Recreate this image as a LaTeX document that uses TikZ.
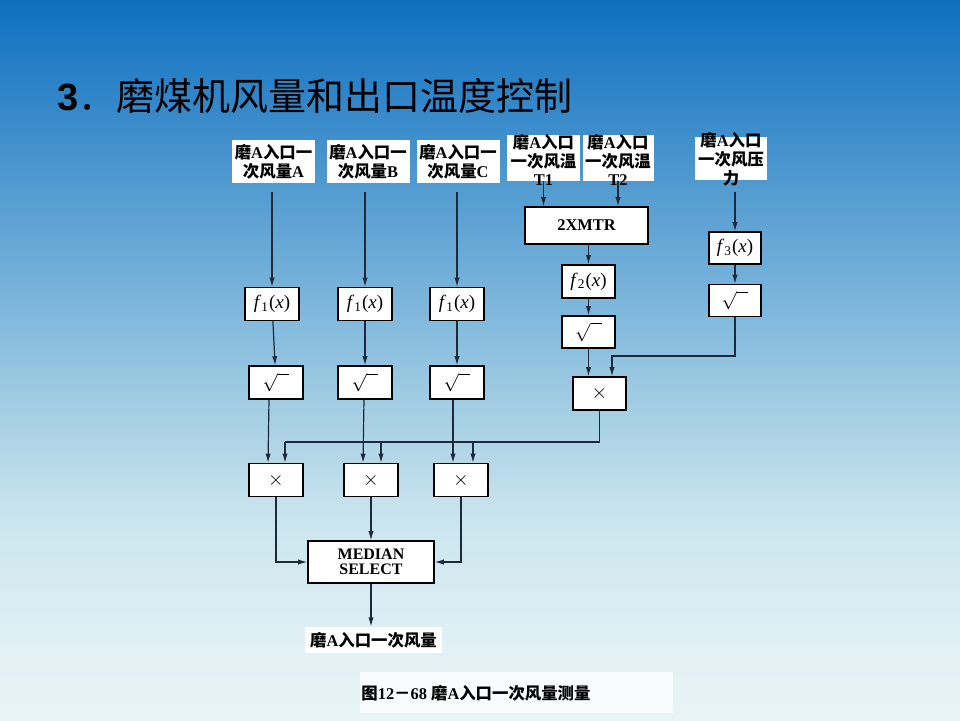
\documentclass[tikz,border=0pt]{standalone}
\usepackage{fontspec}
\setmainfont{Liberation Serif}
\newfontfamily\cjk{Noto Sans CJK SC}
\newfontfamily\titlesans{Liberation Sans}
\usepackage{xcolor}
\usepackage{tikz}
\usetikzlibrary{arrows.meta}

% slide background, top to bottom
\definecolor{bgA}{RGB}{14,111,191}
\definecolor{bgB}{RGB}{134,188,222}
\definecolor{bgC}{RGB}{157,202,226}
\definecolor{bgD}{RGB}{203,229,238}
\definecolor{bgE}{RGB}{227,242,245}
\definecolor{bgF}{RGB}{232,244,246}
\definecolor{wirecol}{RGB}{28,42,60}
\definecolor{capfill}{RGB}{248,252,252}
\pgfdeclareverticalshading{slidebg}{100bp}{color(0bp)=(bgF); color(25bp)=(bgF);
  color(29.17bp)=(bgE); color(38.89bp)=(bgD); color(47.92bp)=(bgC);
  color(52.08bp)=(bgB); color(75bp)=(bgA); color(100bp)=(bgA)}

\newcommand\zh[1]{{\cjk #1}}
\newcommand\fx[1]{{\fontsize{9.5}{10}\selectfont\textit{f}\textsubscript{#1}(\textit{x})}}
\newcommand\rt{{\fontsize{9}{10}\selectfont$\sqrt{\phantom{n}}$}}
\newcommand\mult{{\fontsize{10}{10}\selectfont$\times$}}

\begin{document}
\begin{tikzpicture}[x=0.5pt, y=-0.5pt,
  blk/.style={draw=black, line width=0.6pt, fill=white, inner sep=0pt},
  srcbox/.style={fill=white, inner sep=0pt},
  sz/.style 2 args={minimum width=#1*0.5pt, minimum height=#2*0.5pt},
  lbl/.style={font=\bfseries\fontsize{8.2}{9.4}\selectfont, align=center, inner sep=0pt},
  wire/.style={draw=wirecol, line width=0.6pt},
  arr/.style={wire, -{Latex[length=4.6pt,width=2.6pt]}}]
\useasboundingbox (0,0) rectangle (960,720);
\shade[shading=slidebg] (0,0) rectangle (960,720);
% title
\node[anchor=base west, inner sep=0pt] (title) at (57,110)
  {\fontsize{19}{20}\selectfont\titlesans\bfseries 3\mdseries\cjk ．磨煤机风量和出口温度控制};
% flow inputs A, B, C
\foreach \ch/\cx in {A/273.5,B/368,C/458}{
  \node[srcbox,sz={83}{43},lbl] (in\ch) at (\cx,161.5) {\zh{磨}A\zh{入口一}\\\zh{次风量}\ch};
}
% temperature and pressure inputs (text runs out of the box)
\node[srcbox,sz={73}{46}] (inT1) at (543.5,158) {};
\node[lbl] (inT1txt) at (543.5,160) {\zh{磨}A\zh{入口}\\\zh{一次风温}\\T1};
\node[srcbox,sz={71}{46}] (inT2) at (618,158) {};
\node[lbl] (inT2txt) at (618,160) {\zh{磨}A\zh{入口}\\\zh{一次风温}\\T2};
\node[srcbox,sz={72}{43}] (inP) at (731,158.5) {};
\node[lbl] (inPtxt) at (731,159) {\zh{磨}A\zh{入口}\\\zh{一次风压}\\\zh{力}};
% correction branch
\node[blk,sz={123}{37},lbl] (mtr) at (586.5,225.5) {2XMTR};
\node[blk,sz={53}{33}] (f2) at (588.5,281.5) {\fx{2}};
\node[blk,sz={53}{32}] (sq2) at (588.5,332) {\rt};
\node[blk,sz={52}{32}] (f3) at (735,248) {\fx{3}};
\node[blk,sz={52}{32}] (sq3) at (735,300.5) {\rt};
\node[blk,sz={53}{33}] (mul0) at (599.5,393.5) {\mult};
\coordinate (jP) at (612,356);
\draw[arr] (inT1.south) -- (inT1.south |- mtr.north);
\draw[arr] (inT2.south) -- (inT2.south |- mtr.north);
\draw[arr] (f2.north |- mtr.south) -- (f2.north);
\draw[arr] (f2) -- (sq2);
\draw[arr] (sq2.south) -- (sq2.south |- mul0.north);
\draw[arr, shorten <=6pt] (f3.north |- inP.south) -- (f3.north);
\draw[arr] (f3) -- (sq3);
\draw[arr] (sq3.south) |- (jP) -- (jP |- mul0.north);
% three flow channels
\foreach \ch/\fxx/\sxx/\mxx/\so/\bx in {A/272/276/276/-7/285, B/365/365/371/-1/381, C/457/457/461/-4/473}{
  \node[blk,sz={54}{33}] (f\ch) at (\fxx,304) {\fx{1}};
  \node[blk,sz={54}{33}] (sq\ch) at (\sxx,382.5) {\rt};
  \node[blk,sz={54}{33}] (mul\ch) at (\mxx,480) {\mult};
  \coordinate (bus\ch) at (\bx,442);
  \draw[arr, shorten <=4.5pt] (f\ch.north |- in\ch.south) -- (f\ch.north);
  \draw[arr] (f\ch) -- (sq\ch);
  \draw[arr] ([shift={(\so,0)}]sq\ch.south) -- ([shift={(-8,0)}]mul\ch.north);
  \draw[arr] (bus\ch) -- (bus\ch |- mul\ch.north);
}
\draw[wire] (mul0.south) |- (busA);
% median select and output
\node[blk,sz={126}{42},font=\bfseries\fontsize{8}{7.6}\selectfont,align=center] (med) at (371,562) {MEDIAN\\SELECT};
\draw[arr] (mulA.south) |- (med.west);
\draw[arr] (mulB.south) -- (mulB.south |- med.north);
\draw[arr] (mulC.south) |- (med.east);
\node[srcbox,sz={137}{26},lbl] (out) at (373.5,640) {\zh{磨}A\zh{入口一次风量}};
\draw[arr] (med.south) -- (med.south |- out.north);
% caption
\node[fill=capfill,sz={313}{41}] (capbox) at (516.5,692.5) {};
\node[lbl,anchor=west] (cap) at (361,693) {\zh{图}12\zh{－}68 \zh{磨}A\zh{入口一次风量测量}};
\end{tikzpicture}
\end{document}
